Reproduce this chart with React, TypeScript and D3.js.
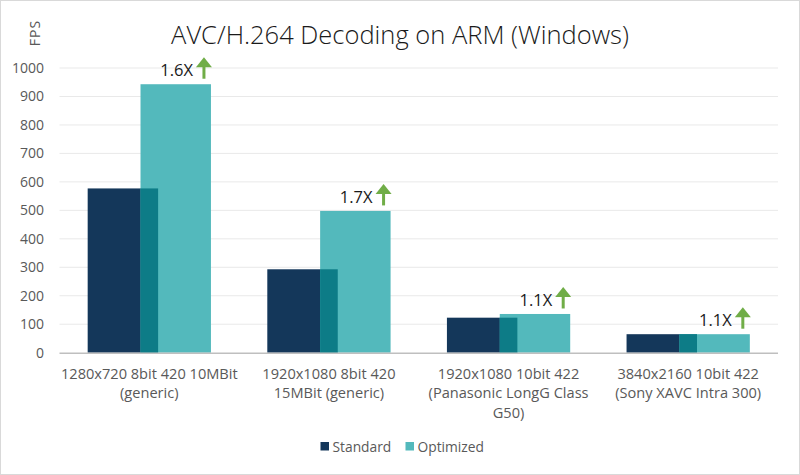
import React from "react";
import * as d3 from "d3";

const categories: string[][] = [
  ["1280x720 8bit 420 10MBit", "(generic)"],
  ["1920x1080 8bit 420", "15MBit (generic)"],
  ["1920x1080 10bit 422", "(Panasonic LongG Class", "G50)"],
  ["3840x2160 10bit 422", "(Sony XAVC Intra 300)"],
];
const standardValues = [577, 293, 123, 65];
const optimizedValues = [943, 498, 136, 65];
const speedupLabels = ["1.6X", "1.7X", "1.1X", "1.1X"];
const yTicks = [0, 100, 200, 300, 400, 500, 600, 700, 800, 900, 1000];
const seriesNames = ["Standard", "Optimized"];

const W = 800;
const H = 475;
const COLORS = { standard: "#14375a", optimized: "#53b9bc", overlap: "#0d7c87" };
const FONT = "'Open Sans', sans-serif";

export default function App() {
  const x = d3
    .scaleBand<number>()
    .domain(categories.map((_, i) => i))
    .range([59.5, 778])
    .paddingInner(0)
    .paddingOuter(0);
  const y = d3.scaleLinear().domain([0, 1000]).range([352.7, 68]);

  const band = x.bandwidth();
  const gapRatio = 0.8;
  const overlapRatio = 0.25;
  const bw = band / (2 - overlapRatio + gapRatio);
  const groupW = bw * (2 - overlapRatio);

  return (
    <div style={{ position: "fixed", left: 0, top: 0 }}>
      <svg width={W} height={H} style={{ display: "block", background: "#fff" }}>
        <rect x={0.5} y={0.5} width={W - 1} height={H - 1} fill="#fff" stroke="#d9d9d9" />
        <text
          x={400}
          y={44}
          textAnchor="middle"
          fontFamily={FONT}
          fontWeight={300}
          fontSize={25.5}
          fill="#1a1a1a"
        >
          AVC/H.264 Decoding on ARM (Windows)
        </text>
        <text
          transform="translate(40,33) rotate(-90)"
          textAnchor="middle"
          fontFamily={FONT}
          fontSize={14}
          fill="#595959"
          letterSpacing={1}
        >
          FPS
        </text>
        {yTicks.map((t) => (
          <g key={t}>
            {t !== 0 && (
              <line x1={59.5} x2={778} y1={y(t)} y2={y(t)} stroke="#e9e9e9" strokeWidth={1} />
            )}
            <text
              x={44}
              y={y(t)}
              dy="0.35em"
              textAnchor="end"
              fontFamily={FONT}
              fontSize={14}
              fill="#595959"
            >
              {t}
            </text>
          </g>
        ))}
        {categories.map((lines, i) => {
          const start = (x(i) as number) + (band - groupW) / 2;
          const sx0 = start;
          const sx1 = start + bw;
          const ox0 = start + bw * (1 - overlapRatio);
          const ox1 = ox0 + bw;
          const sTop = y(standardValues[i]);
          const oTop = y(optimizedValues[i]);
          const base = y(0);
          const ovTop = Math.max(sTop, oTop);
          const cx = (x(i) as number) + band / 2;
          const labelBase = oTop - 8;
          const ax = ox1 - 7;
          return (
            <g key={i}>
              <rect x={sx0} y={sTop} width={bw} height={base - sTop} fill={COLORS.standard} />
              <rect x={ox0} y={oTop} width={bw} height={base - oTop} fill={COLORS.optimized} />
              <rect x={ox0} y={ovTop} width={sx1 - ox0} height={base - ovTop} fill={COLORS.overlap} />
              <text
                x={ox1 - 18}
                y={labelBase}
                textAnchor="end"
                fontFamily={FONT}
                fontSize={16.5}
                fill="#1a1a1a"
              >
                {speedupLabels[i]}
              </text>
              <line
                x1={ax}
                x2={ax}
                y1={labelBase + 2.5}
                y2={labelBase - 12}
                stroke="#70ad47"
                strokeWidth={3}
              />
              <path
                d={`M${ax - 8},${labelBase - 9} L${ax},${labelBase - 19} L${ax + 8},${labelBase - 9} Z`}
                fill="#70ad47"
              />
              {lines.map((ln, j) => (
                <text
                  key={j}
                  x={cx}
                  y={378.5 + j * 19.5}
                  textAnchor="middle"
                  fontFamily={FONT}
                  fontSize={14.6}
                  fill="#595959"
                >
                  {ln}
                </text>
              ))}
            </g>
          );
        })}
        <line x1={59.5} x2={778} y1={y(0) + 0.5} y2={y(0) + 0.5} stroke="#bfbfbf" strokeWidth={1.5} />
        {seriesNames.map((name, k) => {
          const lx = k === 0 ? 320.5 : 405.5;
          return (
            <g key={name}>
              <rect x={lx} y={442} width={8.5} height={8.5} fill={k === 0 ? COLORS.standard : COLORS.optimized} />
              <text x={lx + 12} y={451.5} fontFamily={FONT} fontSize={13.8} fill="#595959">
                {name}
              </text>
            </g>
          );
        })}
      </svg>
    </div>
  );
}
